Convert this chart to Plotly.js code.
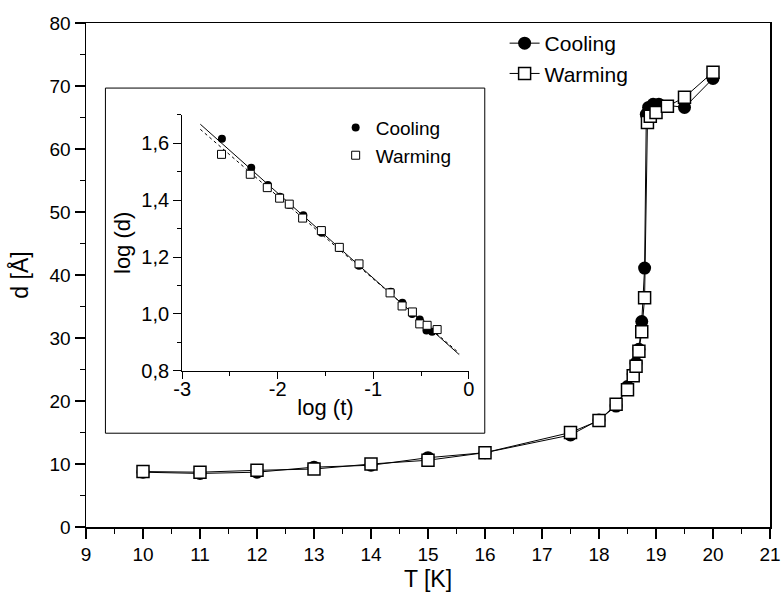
<!DOCTYPE html>
<html>
<head>
<meta charset="utf-8">
<script src="https://cdn.plot.ly/plotly-3.0.1.min.js"></script>
<style>html,body{margin:0;padding:0;background:#fff;}#plot{width:781px;height:597px;}</style>
</head>
<body>
<div id="plot"></div>
<script>
// Main plot data
const coolT = [10, 11, 12, 13, 14, 15, 16, 17.5, 18, 18.3, 18.5, 18.6, 18.65, 18.7, 18.75, 18.8, 18.83, 18.87, 18.95, 19.05, 19.5, 20];
const coolD = [8.7, 8.5, 8.7, 9.5, 9.8, 11.0, 11.8, 14.6, 17.0, 19.2, 22.3, 24.3, 26.0, 28.2, 32.6, 41.1, 65.5, 66.6, 67.1, 67.1, 66.6, 71.2];
const warmT = [10, 11, 12, 13, 14, 15, 16, 17.5, 18, 18.3, 18.5, 18.6, 18.65, 18.7, 18.75, 18.8, 18.85, 18.9, 19.0, 19.2, 19.5, 20];
const warmD = [8.8, 8.7, 9.0, 9.2, 10.0, 10.6, 11.8, 15.0, 16.9, 19.5, 21.8, 24.0, 25.5, 27.9, 31.0, 36.4, 64.2, 65.2, 65.8, 66.8, 68.2, 72.2];

// Inset data (log-log)
const inCoolX = [-2.584, -2.277, -2.102, -1.977, -1.882, -1.732, -1.540, -1.358, -1.149, -0.817, -0.695, -0.593, -0.513, -0.443, -0.384];
const inCoolY = [1.616, 1.514, 1.453, 1.412, 1.383, 1.347, 1.285, 1.232, 1.169, 1.078, 1.039, 1.000, 0.980, 0.942, 0.937];
const inWarmX = [-2.588, -2.287, -2.109, -1.980, -1.879, -1.739, -1.543, -1.355, -1.149, -0.824, -0.698, -0.590, -0.513, -0.436, -0.331];
const inWarmY = [1.561, 1.491, 1.444, 1.407, 1.386, 1.337, 1.293, 1.234, 1.176, 1.074, 1.028, 1.007, 0.965, 0.960, 0.945];
const fitX = [-2.81, -0.10];
const fitCoolY = [1.667, 0.857];
const fitWarmY = [1.649, 0.862];
const insetXTicks = [-3, -2, -1, 0];
const insetXLabels = ['-3', '-2', '-1', '0'];

const FONT = 'Liberation Sans, Arial, sans-serif';

const traces = [
  {x: coolT, y: coolD, name: 'Cooling', mode: 'lines+markers', xaxis: 'x', yaxis: 'y', legend: 'legend',
   line: {color: '#000', width: 1}, marker: {symbol: 'circle', size: 13, color: '#000'}},
  {x: warmT, y: warmD, name: 'Warming', mode: 'lines+markers', xaxis: 'x', yaxis: 'y', legend: 'legend',
   line: {color: '#000', width: 1}, marker: {symbol: 'square', size: 12, color: '#fff', line: {color: '#000', width: 1.5}}},
  {x: fitX, y: fitCoolY, mode: 'lines', xaxis: 'x2', yaxis: 'y2', showlegend: false,
   line: {color: '#000', width: 1}},
  {x: fitX, y: fitWarmY, mode: 'lines', xaxis: 'x2', yaxis: 'y2', showlegend: false,
   line: {color: '#000', width: 1, dash: 'dot'}},
  {x: inCoolX, y: inCoolY, name: 'Cooling', mode: 'markers', xaxis: 'x2', yaxis: 'y2', legend: 'legend2',
   marker: {symbol: 'circle', size: 8, color: '#000'}},
  {x: inWarmX, y: inWarmY, name: 'Warming', mode: 'markers', xaxis: 'x2', yaxis: 'y2', legend: 'legend2',
   marker: {symbol: 'square', size: 8, color: '#fff', line: {color: '#000', width: 1}}}
];

const layout = {
  width: 781, height: 597,
  margin: {l: 86, r: 11, t: 23, b: 70},
  paper_bgcolor: '#fff', plot_bgcolor: '#fff',
  separators: ',.',
  font: {family: FONT, color: '#000', size: 19},
  showlegend: true,
  xaxis: {
    domain: [0, 1], range: [9, 21], tickmode: 'linear', tick0: 9, dtick: 1,
    showgrid: false, zeroline: false, showline: true, mirror: true, linecolor: '#000', linewidth: 1.5,
    ticks: 'outside', ticklen: 10, tickwidth: 1.5, tickcolor: '#000',
    minor: {dtick: 0.5, ticklen: 5, tickwidth: 1.5, tickcolor: '#000', ticks: 'outside'},
    tickfont: {size: 19, family: FONT},
    title: {text: 'T [K]', font: {size: 23, family: FONT}, standoff: 6}
  },
  yaxis: {
    domain: [0, 1], range: [0, 80], tickmode: 'linear', tick0: 0, dtick: 10,
    showgrid: false, zeroline: false, showline: true, mirror: true, linecolor: '#000', linewidth: 1.5,
    ticks: 'outside', ticklen: 10, tickwidth: 1.5, tickcolor: '#000',
    minor: {dtick: 5, ticklen: 5, tickwidth: 1.5, tickcolor: '#000', ticks: 'outside'},
    tickfont: {size: 19, family: FONT},
    title: {text: 'd [Å]', font: {size: 23, family: FONT}, standoff: 14}
  },
  xaxis2: {
    domain: [0.1406, 0.5596], anchor: 'y2', range: [-3, 0], tickmode: 'array', tickvals: insetXTicks, ticktext: insetXLabels,
    showgrid: false, zeroline: false, showline: true, linecolor: '#000', linewidth: 1,
    ticks: 'outside', ticklen: 7, tickwidth: 1, tickcolor: '#000', ticklabelstandoff: -7,
    minor: {tickmode: 'linear', tick0: -3, dtick: 0.5, ticklen: 4, tickwidth: 1, tickcolor: '#000', ticks: 'outside'},
    tickfont: {size: 20, family: FONT},
    title: {text: 'log (t)', font: {size: 22, family: FONT}, standoff: 0}
  },
  yaxis2: {
    domain: [0.3099, 0.8178], anchor: 'x2', range: [0.8, 1.7], tickmode: 'linear', tick0: 0.8, dtick: 0.2,
    tickformat: '.1f',
    showgrid: false, zeroline: false, showline: true, linecolor: '#000', linewidth: 1,
    ticks: 'outside', ticklen: 8, tickwidth: 1, tickcolor: '#000',
    minor: {dtick: 0.1, ticklen: 4, tickwidth: 1, tickcolor: '#000', ticks: 'outside'},
    tickfont: {size: 20, family: FONT},
    title: {text: 'log (d)', font: {size: 22, family: FONT}, standoff: 4}
  },
  legend: {
    x: 0.612, y: 1.0, xanchor: 'left', yanchor: 'top', bgcolor: 'rgba(0,0,0,0)',
    font: {size: 21, family: FONT}, borderwidth: 0, tracegroupgap: 0
  },
  legend2: {
    x: 0.365, y: 0.83, xanchor: 'left', yanchor: 'top', bgcolor: 'rgba(0,0,0,0)',
    font: {size: 19, family: FONT}, borderwidth: 0
  },
  shapes: [
    {type: 'rect', xref: 'paper', yref: 'paper', x0: 0.0284, x1: 0.583, y0: 0.1861, y1: 0.8709,
     line: {color: '#000', width: 1}, fillcolor: '#fff', layer: 'below'}
  ]
};

Plotly.newPlot('plot', traces, layout, {displayModeBar: false, staticPlot: true});
</script>
</body>
</html>
